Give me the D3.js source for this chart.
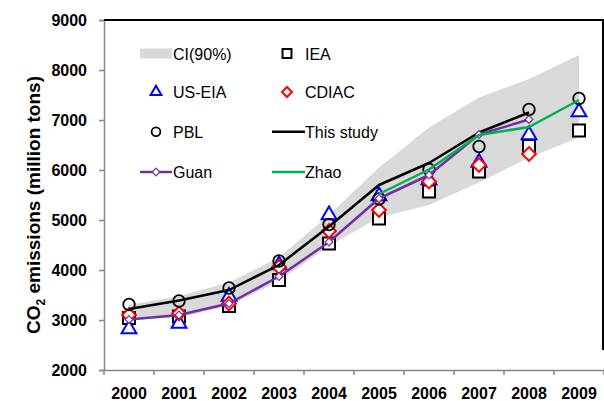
<!DOCTYPE html>
<html>
<head>
<meta charset="utf-8">
<script src="https://cdn.jsdelivr.net/npm/d3@7"></script>
<style>
  body { margin: 0; background: #fff; }
  svg { display: block; font-family: "Liberation Sans", Arial, sans-serif; }
</style>
</head>
<body>
<div id="chart"></div>
<script>
// Data (million tons of CO2)
const years = [2000, 2001, 2002, 2003, 2004, 2005, 2006, 2007, 2008, 2009];
const ciLow = [3000, 3050, 3280, 3780, 4480, 5050, 5300, 5750, 6250, 6650];
const ciHigh = [3300, 3480, 3750, 4250, 5100, 6050, 6850, 7450, 7820, 8300];
const iea = [3040, 3070, 3280, 3800, 4530, 5030, 5570, 5970, 6480, 6790];
const usEia = [2820, 2930, 3470, 4100, 5100, 5480, 5800, 6150, 6700, 7160];
const cdiac = [3100, 3130, 3330, 4060, 4780, 5200, 5770, 6100, 6320, null];
const pbl = [3310, 3380, 3640, 4180, 4910, 5420, 6010, 6470, 7210, 7430];
const thisStudy = [3220, 3390, 3600, 4100, 4870, 5700, 6140, 6750, 7150, null];
const guan = [3010, 3100, 3330, 3870, 4560, 5430, 5900, 6710, 7010, null];
const zhao = [null, null, null, null, null, 5520, 6010, 6700, 6860, 7400];
const yTicks = [2000, 3000, 4000, 5000, 6000, 7000, 8000, 9000];

const W = 604, H = 401;
const margin = { top: 20, right: 0, bottom: 31, left: 104 };

const svg = d3.select('#chart').append('svg')
  .attr('width', W)
  .attr('height', H);

const x = d3.scaleBand()
  .domain(years)
  .range([margin.left, W - margin.right]);
const cx = d => x(d) + x.bandwidth() / 2;

const y = d3.scaleLinear()
  .domain([2000, 9000])
  .range([H - margin.bottom, margin.top]);

const axisColor = '#868686';

// CI band
const band = years.map((yr, i) => ({ yr, lo: ciLow[i], hi: ciHigh[i] }));
svg.append('path')
  .datum(band)
  .attr('fill', '#d9d9d9')
  .attr('d', d3.area()
    .x(d => cx(d.yr))
    .y0(d => y(d.lo))
    .y1(d => y(d.hi)));

// Y axis
svg.append('g')
  .attr('transform', `translate(${margin.left},0)`)
  .call(d3.axisLeft(y).tickValues(yTicks).tickSize(5).tickPadding(12).tickFormat(d3.format('d')))
  .call(g => g.select('.domain').attr('stroke', axisColor).attr('stroke-width', 1.5))
  .call(g => g.selectAll('.tick line').attr('stroke', axisColor).attr('stroke-width', 1.5))
  .call(g => g.selectAll('.tick text')
    .attr('fill', '#000')
    .style('font-size', '16px')
    .style('font-weight', 'bold'));

// X axis: labels at band centres, ticks at band edges
const xAxis = svg.append('g')
  .attr('transform', `translate(0,${y(2000)})`)
  .call(d3.axisBottom(x).tickSize(0).tickPadding(18))
  .call(g => g.select('.domain').attr('stroke', axisColor).attr('stroke-width', 1.5))
  .call(g => g.selectAll('.tick text')
    .attr('fill', '#000')
    .style('font-size', '16px')
    .style('font-weight', 'bold'));

xAxis.selectAll('line.edge')
  .data(years.map(d => x(d)).concat([x.range()[1]]))
  .join('line')
  .attr('class', 'edge')
  .attr('x1', d => d).attr('x2', d => d)
  .attr('y1', 0).attr('y2', 5)
  .attr('stroke', axisColor)
  .attr('stroke-width', 1.5);

// top and right frame edges (black)
svg.append('line')
  .attr('x1', margin.left).attr('x2', W)
  .attr('y1', y(9000)).attr('y2', y(9000))
  .attr('stroke', '#000').attr('stroke-width', 2);
svg.append('line')
  .attr('x1', W - 1).attr('x2', W - 1)
  .attr('y1', y(9000)).attr('y2', y(2400))
  .attr('stroke', '#000').attr('stroke-width', 2);

// Y-axis title
svg.append('text')
  .attr('transform', `translate(40,${(y(2000) + y(9000)) / 2 + 10}) rotate(-90)`)
  .attr('text-anchor', 'middle')
  .style('font-size', '19px')
  .style('font-weight', 'bold')
  .call(t => {
    t.append('tspan').text('CO');
    t.append('tspan').text('2').attr('dy', 5).style('font-size', '12px');
    t.append('tspan').text(' emissions (million tons)').attr('dy', -5);
  });

// marker helpers
const diamond = {
  draw(ctx, size) {
    const r = Math.sqrt(size / 2);
    ctx.moveTo(0, -r); ctx.lineTo(r, 0); ctx.lineTo(0, r); ctx.lineTo(-r, 0); ctx.closePath();
  }
};
const markers = {
  iea: { type: d3.symbolSquare, size: 144, stroke: '#000', fill: '#fff', sw: 2 },
  usEia: { type: d3.symbolTriangle, size: 95, stroke: '#0000ff', fill: '#fff', sw: 2 },
  cdiac: { type: diamond, size: 95, stroke: '#ff0000', fill: '#fff', sw: 2 },
  pbl: { type: d3.symbolCircle, size: 105, stroke: '#000', fill: 'none', sw: 1.8 },
  guan: { type: diamond, size: 30, stroke: '#7030a0', fill: '#fff', sw: 1.2 }
};

function drawPoints(values, m) {
  const pts = years.map((yr, i) => ({ yr, v: values[i] })).filter(d => d.v != null);
  svg.append('g').selectAll('path')
    .data(pts)
    .join('path')
    .attr('transform', d => `translate(${cx(d.yr)},${y(d.v)})`)
    .attr('d', d3.symbol().type(m.type).size(m.size))
    .attr('fill', m.fill)
    .attr('stroke', m.stroke)
    .attr('stroke-width', m.sw);
}

function drawLine(values, color, width) {
  const pts = years.map((yr, i) => ({ yr, v: values[i] })).filter(d => d.v != null);
  svg.append('path')
    .datum(pts)
    .attr('fill', 'none')
    .attr('stroke', color)
    .attr('stroke-width', width)
    .attr('stroke-linejoin', 'round')
    .attr('d', d3.line().x(d => cx(d.yr)).y(d => y(d.v)));
}

drawPoints(iea, markers.iea);
drawPoints(usEia, markers.usEia);
drawPoints(cdiac, markers.cdiac);
drawPoints(pbl, markers.pbl);
drawLine(thisStudy, '#000', 2.5);
drawLine(guan, '#7030a0', 2.5);
drawPoints(guan, markers.guan);
drawLine(zhao, '#00b050', 2.5);

// Legend
const rows = [53.5, 92, 131.7, 172];
const cols = [{ sym: 156, l0: 140, l1: 172, tx: 173 }, { sym: 287, l0: 272, l1: 305, tx: 305 }];
const legendItems = [
  { name: 'CI(90%)', col: 0, row: 0, kind: 'band' },
  { name: 'IEA', col: 1, row: 0, kind: 'mark', m: markers.iea, size: 80 },
  { name: 'US-EIA', col: 0, row: 1, kind: 'mark', m: markers.usEia, size: 50 },
  { name: 'CDIAC', col: 1, row: 1, kind: 'mark', m: markers.cdiac, size: 50 },
  { name: 'PBL', col: 0, row: 2, kind: 'mark', m: markers.pbl, size: 60 },
  { name: 'This study', col: 1, row: 2, kind: 'line', color: '#000' },
  { name: 'Guan', col: 0, row: 3, kind: 'line', color: '#7030a0', m: markers.guan },
  { name: 'Zhao', col: 1, row: 3, kind: 'line', color: '#00b050' }
];

const lg = svg.append('g');
legendItems.forEach(it => {
  const c = cols[it.col], ry = rows[it.row];
  if (it.kind === 'band') {
    lg.append('rect')
      .attr('x', c.l0).attr('y', ry - 5)
      .attr('width', c.l1 - c.l0).attr('height', 10)
      .attr('fill', '#d9d9d9');
  } else if (it.kind === 'line') {
    lg.append('line')
      .attr('x1', c.l0).attr('x2', c.l1)
      .attr('y1', ry).attr('y2', ry)
      .attr('stroke', it.color).attr('stroke-width', 2.5);
    if (it.m) {
      lg.append('path')
        .attr('transform', `translate(${c.sym},${ry})`)
        .attr('d', d3.symbol().type(it.m.type).size(it.m.size))
        .attr('fill', it.m.fill).attr('stroke', it.m.stroke).attr('stroke-width', it.m.sw);
    }
  } else {
    lg.append('path')
      .attr('transform', `translate(${c.sym},${ry})`)
      .attr('d', d3.symbol().type(it.m.type).size(it.size))
      .attr('fill', it.m.fill).attr('stroke', it.m.stroke).attr('stroke-width', it.m.sw);
  }
  lg.append('text')
    .attr('x', c.tx).attr('y', ry + 6)
    .style('font-size', '16px')
    .attr('fill', '#000')
    .text(it.name);
});
</script>
</body>
</html>
